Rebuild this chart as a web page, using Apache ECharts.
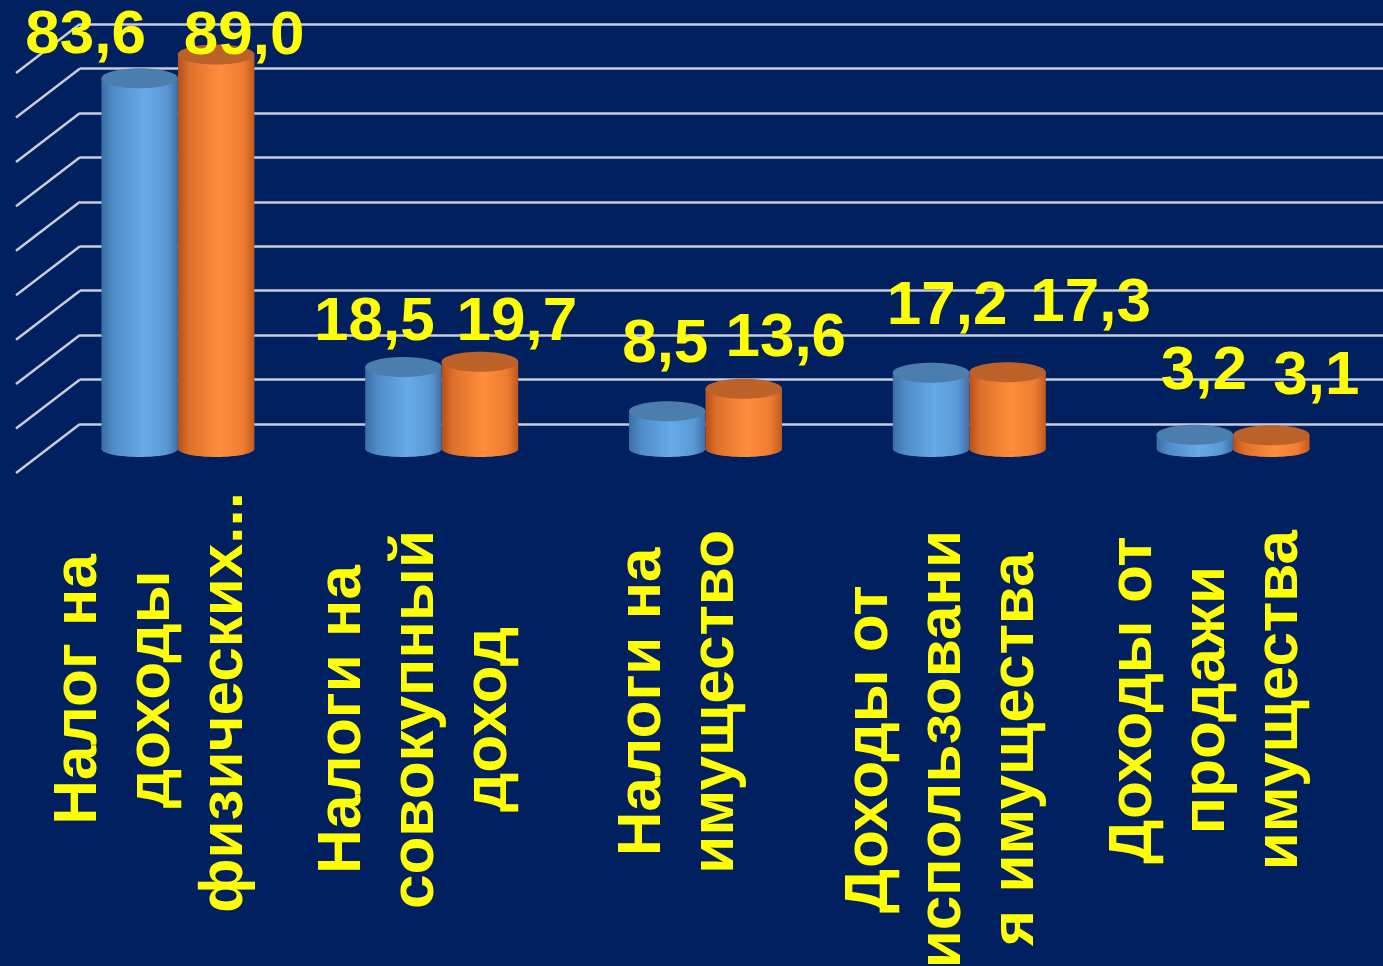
<!DOCTYPE html>
<html>
<head>
<meta charset="utf-8">
<script src="https://cdn.jsdelivr.net/npm/echarts@6/dist/echarts.min.js"></script>
<style>
html,body{margin:0;padding:0;background:#002060;}
#chart{width:1383px;height:966px;}
</style>
</head>
<body>
<div id="chart"></div>
<script>
// ---- data ----
const categories = [
  'Налог на\nдоходы\nфизических...',
  'Налоги на\nсовокупный\nдоход',
  'Налоги на\nимущество',
  'Доходы от\nиспользовани\nя имущества',
  'Доходы от\nпродажи\nимущества'
];
const seriesBlue = [83.6, 18.5, 8.5, 17.2, 3.2];
const seriesOrange = [89.0, 19.7, 13.6, 17.3, 3.1];
const yTicks = [0, 10, 20, 30, 40, 50, 60, 70, 80, 90];

// ---- label placement (style only): offsets of value labels from bar top ----
const labelOffBlue = [[-54, -24], [-29, -26], [-2, -48], [16, -48], [9, -45]];
const labelOffOrange = [[28, 0], [37, -21], [42, -32], [83, -50], [45, -40]];

const FONT = '"Liberation Sans", Arial, sans-serif';
const YELLOW = '#ffff00';

function fmt(v) { return v.toFixed(1).replace('.', ','); }

function makeCylinder(side, stops, topColor, offs) {
  return function (params, api) {
    const i = api.value(0), v = api.value(1);
    const pTop = api.coord([i, v]);
    const pBase = api.coord([i, 0]);
    const band = api.size([1, 0])[0];
    const w = band * 0.29;
    const rx = w / 2;
    const cx = pTop[0] + side * rx;
    const fill = new echarts.graphic.LinearGradient(0, 0, 1, 0, stops);
    const off = offs[params.dataIndex];
    return {
      type: 'group',
      children: [
        { type: 'ellipse', shape: { cx: cx, cy: pBase[1], rx: rx, ry: 8 }, style: { fill: fill } },
        { type: 'rect', shape: { x: cx - rx, y: pTop[1], width: w, height: pBase[1] - pTop[1] }, style: { fill: fill } },
        { type: 'ellipse', shape: { cx: cx, cy: pTop[1], rx: rx, ry: 10 }, style: { fill: topColor } },
        {
          type: 'text', z2: 100,
          x: cx + off[0], y: pTop[1] + off[1] - 18,
          style: { text: fmt(v), fill: YELLOW, font: 'bold 62px ' + FONT, align: 'center', verticalAlign: 'middle' }
        }
      ]
    };
  };
}

const blueStops = [
  { offset: 0, color: '#3b6ca3' }, { offset: 0.15, color: '#4f8bc8' },
  { offset: 0.55, color: '#66aaea' }, { offset: 0.85, color: '#5b99d6' }, { offset: 1, color: '#3e70a8' }
];
const orangeStops = [
  { offset: 0, color: '#b4501b' }, { offset: 0.15, color: '#de712b' },
  { offset: 0.55, color: '#ff8d3c' }, { offset: 0.85, color: '#ef7d31' }, { offset: 1, color: '#bd5b20' }
];

const labelBase = { color: YELLOW, fontSize: 62, fontWeight: 'bold', fontFamily: FONT, lineHeight: 73, align: 'center' };

const chart = echarts.init(document.getElementById('chart'), null, { renderer: 'canvas' });

const option = {
  backgroundColor: '#002060',
  animation: false,
  grid: [
    // back wall
    { left: 80, right: 0, top: 24, bottom: 542, outerBoundsMode: 'none' },
    // bars (front)
    { left: 46, right: 18, top: 50, bottom: 517, outerBoundsMode: 'none' },
    // category labels
    { left: 20, right: 44, top: 40, bottom: 504, outerBoundsMode: 'none' }
  ],
  xAxis: [
    { gridIndex: 0, type: 'value', min: 0, max: 1, show: false },
    { gridIndex: 1, type: 'category', data: categories, show: false },
    {
      gridIndex: 2, type: 'category', data: categories,
      axisLine: { show: false }, axisTick: { show: false }, splitLine: { show: false },
      axisLabel: {
        interval: 0, rotate: 90, margin: 30,
        formatter: function (s, idx) {
          const lines = s.split('\n');
          return lines.map(function (l, k) {
            let st = 'a';
            if (idx === 0) st = (k === lines.length - 1) ? 'b' : 'c';
            return '{' + st + '|' + l + '}';
          }).join('\n');
        },
        rich: {
          a: Object.assign({}, labelBase, { padding: [0, 38, 0, 0] }),
          b: Object.assign({}, labelBase),
          c: Object.assign({}, labelBase, { padding: [0, 0, 0, 26] })
        }
      }
    }
  ],
  yAxis: [
    {
      gridIndex: 0, type: 'value', min: 0, max: 90, interval: 10,
      axisLine: { show: false }, axisTick: { show: false }, axisLabel: { show: false },
      splitLine: { show: true, lineStyle: { color: '#c9cdd9', width: 2.5 } }
    },
    { gridIndex: 1, type: 'value', min: 0, max: 90, interval: 10, show: false, splitLine: { show: false } },
    { gridIndex: 2, type: 'value', min: 0, max: 1, show: false, splitLine: { show: false } }
  ],
  series: [
    {
      type: 'custom', xAxisIndex: 0, yAxisIndex: 0, silent: true,
      data: yTicks.map(function (t) { return [0, t]; }),
      renderItem: function (params, api) {
        const p = api.coord([0, api.value(1)]);
        const x0 = params.coordSys.x;
        return {
          type: 'line',
          shape: { x1: x0, y1: p[1], x2: x0 - 64, y2: p[1] + 49 },
          style: { stroke: '#c9cdd9', lineWidth: 2.5 }
        };
      }
    },
    {
      name: 'blue', type: 'custom', xAxisIndex: 1, yAxisIndex: 1,
      data: seriesBlue.map(function (v, i) { return [i, v]; }),
      encode: { x: 0, y: 1 },
      renderItem: makeCylinder(-1, blueStops, '#4b7dad', labelOffBlue)
    },
    {
      name: 'orange', type: 'custom', xAxisIndex: 1, yAxisIndex: 1,
      data: seriesOrange.map(function (v, i) { return [i, v]; }),
      encode: { x: 0, y: 1 },
      renderItem: makeCylinder(1, orangeStops, '#bc6127', labelOffOrange)
    },
    {
      type: 'custom', xAxisIndex: 2, yAxisIndex: 2, silent: true,
      data: [], renderItem: function () { return null; }
    }
  ]
};
chart.setOption(option);
</script>
</body>
</html>
